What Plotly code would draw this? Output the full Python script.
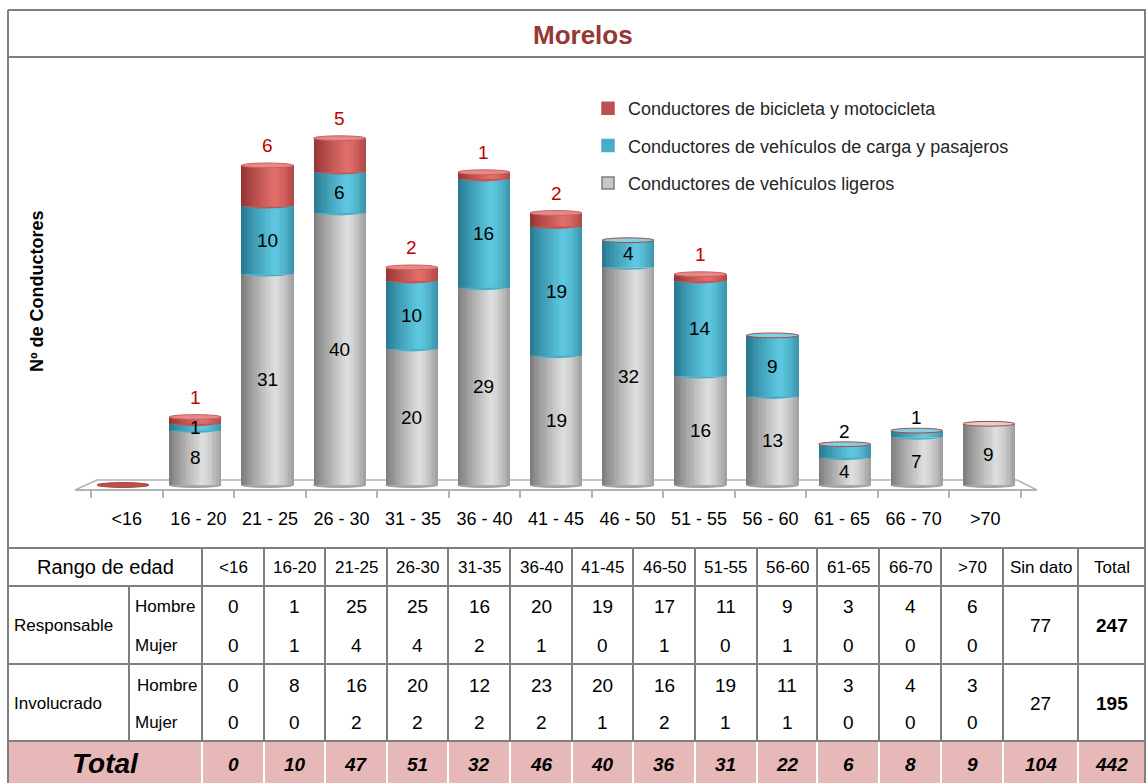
import plotly.graph_objects as go

FIG_W, FIG_H = 1146, 783
FONT = "Liberation Sans, Arial, sans-serif"

# ---- chart data -------------------------------------------------------------
age_ticks = ["<16", "16 - 20", "21 - 25", "26 - 30", "31 - 35", "36 - 40", "41 - 45",
             "46 - 50", "51 - 55", "56 - 60", "61 - 65", "66 - 70", ">70"]
ligeros = [0, 8, 31, 40, 20, 29, 19, 32, 16, 13, 4, 7, 9]
carga = [0, 1, 10, 6, 10, 16, 19, 4, 14, 9, 2, 1, 0]
bici = [0, 1, 6, 5, 2, 1, 2, 0, 1, 0, 0, 0, 0]

name_ligeros = "Conductores de vehículos ligeros"
name_carga = "Conductores de vehículos de carga y pasajeros"
name_bici = "Conductores de bicicleta y motocicleta"

# ---- table data -------------------------------------------------------------
age_cols = ["<16", "16-20", "21-25", "26-30", "31-35", "36-40", "41-45",
            "46-50", "51-55", "56-60", "61-65", "66-70", ">70"]
resp_hombre = [0, 1, 25, 25, 16, 20, 19, 17, 11, 9, 3, 4, 6]
resp_mujer = [0, 1, 4, 4, 2, 1, 0, 1, 0, 1, 0, 0, 0]
inv_hombre = [0, 8, 16, 20, 12, 23, 20, 16, 19, 11, 3, 4, 3]
inv_mujer = [0, 0, 2, 2, 2, 2, 1, 2, 1, 1, 0, 0, 0]
resp_sin_dato, resp_total = 77, 247
inv_sin_dato, inv_total = 27, 195
col_totals = [0, 10, 47, 51, 32, 46, 40, 36, 31, 22, 6, 8, 9]
sin_dato_total, grand_total = 104, 442


def px(x):
    return x / FIG_W


def py(y):
    return 1 - y / FIG_H


def mix(c1, c2, s):
    r = [round(a + (b - a) * s) for a, b in zip(c1, c2)]
    return "rgb({},{},{})".format(*r)


# cylinder palettes: (dark edge, highlight)
PAL = {
    "gray": ((120, 120, 120), (222, 222, 222)),
    "cyan": ((36, 118, 142), (94, 200, 224)),
    "red": ((146, 50, 48), (226, 110, 106)),
}
MID = {"gray": "rgb(190,190,190)", "cyan": "rgb(72,174,200)", "red": "rgb(200,84,80)"}


def shade(t):
    # brightness across the cylinder: dark left edge, highlight right of centre
    peak = 0.63
    if t <= peak:
        s = (t / peak) ** 0.85
    else:
        s = 1 - 0.65 * ((t - peak) / (1 - peak)) ** 1.5
    return max(0.0, min(1.0, s))


fig = go.Figure()
pos = list(range(len(age_ticks)))
BAR_W = 0.72
N_STRIPS = 20

base_carga = ligeros
base_bici = [a + b for a, b in zip(ligeros, carga)]
totals = [a + b for a, b in zip(base_bici, bici)]

for vals, base, pal in ((ligeros, [0] * len(pos), "gray"),
                        (carga, base_carga, "cyan"),
                        (bici, base_bici, "red")):
    dark, light = PAL[pal]
    for k in range(N_STRIPS):
        t = (k + 0.5) / N_STRIPS
        fig.add_trace(go.Bar(
            x=pos, y=vals, base=base,
            width=BAR_W / N_STRIPS * 1.1,
            offset=-BAR_W / 2 + k * BAR_W / N_STRIPS,
            marker=dict(color=mix(dark, light, shade(t)), line=dict(width=0)),
            showlegend=False, hoverinfo="skip",
        ))

# legend entries
for nm, col, edge in ((name_bici, "#c0504d", "#c0504d"),
                      (name_carga, "#4bacc6", "#4bacc6"),
                      (name_ligeros, "#c8c8c8", "#7f7f7f")):
    fig.add_trace(go.Bar(x=[None], y=[None], name=nm, legendgroup=nm,
                         marker=dict(color=col, line=dict(color=edge, width=1.5)),
                         hoverinfo="skip"))

# category axis carrying the age labels under the floor
fig.add_trace(go.Scatter(x=age_ticks, y=[0] * len(age_ticks), mode="markers",
                         marker=dict(opacity=0), showlegend=False, hoverinfo="skip",
                         xaxis="x2", yaxis="y2"))

shapes = []
ann = []

# floor of the 3D plot
FLOOR_COL = "#b3b3b3"
shapes.append(dict(type="path", xref="paper", yref="paper", layer="below",
                   path="M {},{} L {},{} L {},{} L {},{}".format(
                       px(75), py(490), px(97), py(480), px(1017), py(480), px(1037), py(490)),
                   line=dict(color=FLOOR_COL, width=1.5)))

E = 0.35  # ellipse half height in data units
light_of = {"gray": "#d4d4d4", "cyan": "#7fd2e6", "red": "#e58a87"}
for i in pos:
    x0, x1 = i - BAR_W / 2, i + BAR_W / 2
    xc = i
    if totals[i] == 0:
        shapes.append(dict(type="circle", xref="x", yref="y", layer="above",
                           x0=x0, x1=x1, y0=-E, y1=E,
                           fillcolor="#c0504d", line=dict(color="#a8403d", width=1)))
        continue
    # bottom rim
    shapes.append(dict(type="circle", xref="x", yref="y", layer="below",
                       x0=x0, x1=x1, y0=-E, y1=E,
                       fillcolor="#a9a9a9", line=dict(color="#9a9a9a", width=1)))
    # curved front edge where one segment sits on another
    segs = [(ligeros[i], "gray"), (carga[i], "cyan"), (bici[i], "red")]
    level = 0
    prev = None
    for v, pal in segs:
        if v <= 0:
            continue
        if prev is not None:
            shapes.append(dict(
                type="path", xref="x", yref="y", layer="above",
                path="M {},{} Q {},{} {},{} Z".format(x0, level, xc, level - 2 * E, x1, level),
                fillcolor=MID[pal], line=dict(width=0)))
        level += v
        prev = pal
    rim = "#b24440" if bici[i] == 0 else "#c9605c"
    shapes.append(dict(type="circle", xref="x", yref="y", layer="above",
                       x0=x0, x1=x1, y0=totals[i] - E, y1=totals[i] + E,
                       fillcolor=light_of[prev], line=dict(color=rim, width=1)))

# value labels
LBL = dict(family=FONT, size=19, color="#000000")
for i in pos:
    if ligeros[i] > 0:
        ann.append(dict(x=i, y=ligeros[i] / 2, xref="x", yref="y", text=str(ligeros[i]),
                        showarrow=False, font=LBL))
    if carga[i] > 0:
        if bici[i] == 0 and carga[i] < 3:
            ann.append(dict(x=i, y=totals[i], xref="x", yref="y", yshift=13,
                            text=str(carga[i]), showarrow=False, font=LBL))
        else:
            ann.append(dict(x=i, y=ligeros[i] + carga[i] / 2, xref="x", yref="y",
                            text=str(carga[i]), showarrow=False, font=LBL))
    if bici[i] > 0:
        ann.append(dict(x=i, y=totals[i], xref="x", yref="y", yshift=20,
                        text=str(bici[i]), showarrow=False,
                        font=dict(family=FONT, size=19, color="#c00000")))

# y axis title
ann.append(dict(x=px(37), y=py(291), xref="paper", yref="paper", text="<b>Nº de Conductores</b>",
                textangle=-90, showarrow=False, xanchor="center", yanchor="middle",
                font=dict(family=FONT, size=18, color="#000")))

# title
ann.append(dict(x=px(583), y=py(35), xref="paper", yref="paper", text="<b>Morelos</b>",
                showarrow=False, xanchor="center", yanchor="middle",
                font=dict(family=FONT, size=26, color="#953735")))

# ---- frame and table grid ---------------------------------------------------
GRID = "#7f7f7f"


def hline(y, x0, x1, color=GRID, w=2):
    shapes.append(dict(type="line", xref="paper", yref="paper", layer="above",
                       x0=px(x0), x1=px(x1), y0=py(y), y1=py(y), line=dict(color=color, width=w)))


def vline(x, y0, y1, color=GRID, w=2):
    shapes.append(dict(type="line", xref="paper", yref="paper", layer="above",
                       x0=px(x), x1=px(x), y0=py(y0), y1=py(y1), line=dict(color=color, width=w)))


col_edges = [8, 129, 202, 264, 325, 387, 448, 510, 572, 633, 695, 757, 817, 879, 941, 1003, 1078, 1145]
row_edges = [548, 586, 664, 741, 783]

# total row fill
shapes.append(dict(type="rect", xref="paper", yref="paper", layer="below",
                   x0=px(8), x1=px(1146), y0=py(741), y1=py(783),
                   fillcolor="#e6b8b7", line=dict(width=0)))

hline(10, 8, 1146)
hline(57, 8, 1146)
for y in row_edges[:-1]:
    hline(y, 8, 1146)
vline(8, 10, 783)
vline(1145, 10, 783)
vline(129, 586, 741)
for x in col_edges[2:-1]:
    vline(x, 548, 741)
    vline(x, 742, 783, color="#ffffff", w=2)

TXT = dict(family=FONT, size=19, color="#000000")
SMALL = dict(family=FONT, size=17, color="#000000")


def cell(x, y, text, font=TXT, anchor="center"):
    ann.append(dict(x=px(x), y=py(y), xref="paper", yref="paper", text=text,
                    showarrow=False, xanchor=anchor, yanchor="middle", font=font))


def ccenter(j):
    return (col_edges[j] + col_edges[j + 1]) / 2


cell((8 + 202) / 2, 567, "Rango de edad", font=dict(family=FONT, size=20, color="#000"))
for j, lab in enumerate(age_cols):
    cell(ccenter(j + 2), 567, lab, font=SMALL)
cell(ccenter(15), 567, "Sin dato", font=SMALL)
cell(ccenter(16), 567, "Total", font=SMALL)

cell(12, 625, "Responsable", anchor="left", font=SMALL)
cell(133, 606, "Hombre", anchor="left", font=SMALL)
cell(133, 645, "Mujer", anchor="left", font=SMALL)
cell(12, 703, "Involucrado", anchor="left", font=SMALL)
cell(135, 685, "Hombre", anchor="left", font=SMALL)
cell(133, 722, "Mujer", anchor="left", font=SMALL)

for j in range(len(age_cols)):
    cell(ccenter(j + 2), 606, str(resp_hombre[j]))
    cell(ccenter(j + 2), 645, str(resp_mujer[j]))
    cell(ccenter(j + 2), 685, str(inv_hombre[j]))
    cell(ccenter(j + 2), 722, str(inv_mujer[j]))
    cell(ccenter(j + 2), 764, "<b><i>{}</i></b>".format(col_totals[j]))

cell(ccenter(15), 625, str(resp_sin_dato))
cell(ccenter(15), 703, str(inv_sin_dato))
cell(ccenter(16), 625, "<b>{}</b>".format(resp_total))
cell(ccenter(16), 703, "<b>{}</b>".format(inv_total))
cell(ccenter(15), 764, "<b><i>{}</i></b>".format(sin_dato_total))
cell(ccenter(16), 764, "<b><i>{}</i></b>".format(grand_total))
cell((8 + 202) / 2, 763, "<b><i>Total</i></b>", font=dict(family=FONT, size=28, color="#000"))

# ---- layout -----------------------------------------------------------------
Y_TOP, Y_ZERO, Y_MAX, Y_MIN = 77, 485, 60, -1
px_per_unit = (Y_ZERO - Y_TOP) / Y_MAX
y_bottom_px = Y_ZERO - Y_MIN * px_per_unit

fig.update_layout(
    width=FIG_W, height=FIG_H,
    margin=dict(l=0, r=0, t=0, b=0),
    paper_bgcolor="#ffffff", plot_bgcolor="rgba(0,0,0,0)",
    barmode="overlay", bargap=0,
    showlegend=True,
    legend=dict(x=px(588), y=py(90), xanchor="left", yanchor="top",
                font=dict(family=FONT, size=18, color="#262626"),
                traceorder="grouped", tracegroupgap=11, bgcolor="rgba(0,0,0,0)"),
    xaxis=dict(domain=[px(87), px(1025)], range=[-0.5, 12.5], visible=False, fixedrange=True),
    yaxis=dict(domain=[py(y_bottom_px), py(Y_TOP)], range=[Y_MIN, Y_MAX], visible=False,
               fixedrange=True),
    xaxis2=dict(domain=[px(75), px(1037)], anchor="free", position=py(490), type="category",
                showline=True, linecolor=FLOOR_COL, linewidth=1.5, ticks="outside", ticklen=7,
                tickcolor=FLOOR_COL, tickwidth=1.5, tickson="boundaries", showgrid=False,
                zeroline=False, ticklabelstandoff=13,
                tickfont=dict(family=FONT, size=18, color="#000"), fixedrange=True),
    yaxis2=dict(domain=[py(y_bottom_px), py(Y_TOP)], range=[0, 1], visible=False,
                anchor="x2", fixedrange=True),
    shapes=shapes,
    annotations=ann,
)

fig.write_html("out.html")
